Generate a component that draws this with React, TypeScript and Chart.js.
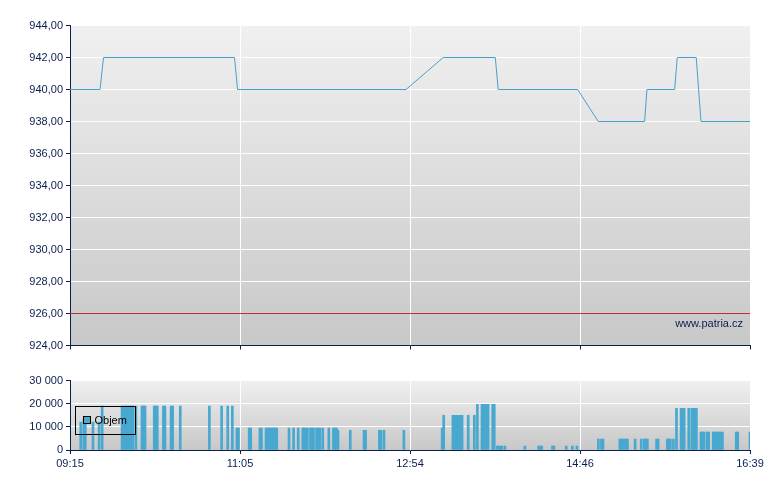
import React, { useEffect, useRef } from 'react';
import { Chart, registerables } from 'chart.js';

Chart.register(...registerables);

// ---- data ----
const timeLabels = ['09:15', '11:05', '12:54', '14:46', '16:39'];
const timeTickMinutes = [0, 111, 222, 333, 444];
const sessionLength = 444;

const priceTimes = [0, 19.6, 21.9, 107.4, 109.4, 219.4, 243.7, 277.7, 279.6, 331.5, 344.9, 375.2, 376.7, 394.8, 396.5, 408.9, 412, 444];
const priceValues = [940, 940, 942, 942, 940, 940, 942, 942, 940, 940, 938, 938, 940, 940, 942, 942, 938, 938];
const referencePrice = 926;
const priceMin = 924;
const priceMax = 944;
const priceStep = 2;

const volumeTimes = [
  7, 9, 10, 15, 19, 21,
  34, 35, 36, 37, 38, 39, 40, 41, 43,
  47, 48, 49, 55, 56, 57, 61, 62, 66, 67, 72,
  91, 99, 103, 106,
  109, 110, 117, 118, 124, 125,
  128, 129, 130, 131, 132, 133, 134, 135,
  143, 146, 149, 152, 153, 154, 155, 157, 158, 159, 161, 162, 163, 165, 169, 172, 173, 174,
  175, 183, 192, 193, 202, 203, 205, 218,
  243, 244, 250, 251, 252, 253, 254, 255, 256, 260, 264,
  266, 269, 270, 271, 272, 273, 276, 277,
  279, 280, 281, 282, 284, 297, 306, 307, 308, 315, 316, 324, 328, 331,
  345, 347, 348, 359, 360, 361, 362, 363, 364, 369, 373, 375, 376, 377, 383, 384, 390, 391, 392, 394,
  396, 399, 400, 401, 404, 406, 407, 408, 409,
  412, 413, 414, 416, 417, 420, 421, 422, 423, 424, 425, 426, 435, 436, 444,
];
const volumeValues = [
  12000, 13000, 13000, 12000, 12000, 19000,
  19000, 19000, 19000, 19000, 19000, 19000, 19000, 19000, 19000,
  19000, 19000, 19000, 19000, 19000, 19000, 19000, 19000, 19000, 19000, 19000,
  19000, 19000, 19000, 19000,
  9500, 9500, 9500, 9500, 9500, 9500,
  9500, 9500, 9500, 9500, 9500, 9500, 9500, 9500,
  9500, 9500, 9500, 9500, 9500, 9500, 9500, 9500, 9500, 9500, 9500, 9500, 9500, 9500, 9500, 9500, 9500, 9500,
  8500, 8500, 8500, 8500, 8500, 8500, 8500, 8500,
  9500, 15000, 15000, 15000, 15000, 15000, 15000, 15000, 15000, 15000, 15000,
  19700, 19700, 19700, 19700, 19700, 19700, 19700, 19700,
  1700, 1700, 1700, 1700, 1700, 1700, 1700, 1700, 1700, 1700, 1700, 1700, 1700, 1700,
  4700, 4700, 4700, 4700, 4700, 4700, 4700, 4700, 4700, 4700, 4700, 4700, 4700, 4700, 4700, 4700, 4700, 4700, 4700, 4700,
  18000, 18000, 18000, 18000, 18000, 18000, 18000, 18000, 18000,
  7700, 7700, 7700, 7700, 7700, 7700, 7700, 7700, 7700, 7700, 7700, 7700, 7700, 7700, 7700,
];
const volumeMax = 30000;
const volumeStep = 10000;
const volumeLabel = 'Objem';
const watermark = 'www.patria.cz';

// ---- styles ----
const NAVY = '#0b1f4f';
const LINE_BLUE = '#4aa0c8';
const BAR_BLUE = '#48a8d0';
const RED = '#b8332e';
const FONT = { family: "'Liberation Sans', Arial, sans-serif", size: 11 };

const plotBackground = {
  id: 'plotBackground',
  beforeDraw(chart: any) {
    const { ctx, chartArea: a } = chart;
    const top = Math.floor(a.top);
    const g = ctx.createLinearGradient(0, top, 0, a.bottom);
    g.addColorStop(0, '#f0f0f0');
    g.addColorStop(1, '#c8c8c8');
    ctx.save();
    ctx.fillStyle = g;
    ctx.fillRect(a.left, top, a.right - a.left, Math.ceil(a.bottom) - top);
    ctx.restore();
  },
};

const watermarkPlugin = {
  id: 'watermark',
  afterDraw(chart: any) {
    const { ctx, chartArea: a } = chart;
    ctx.save();
    ctx.font = `11px ${FONT.family}`;
    ctx.fillStyle = NAVY;
    ctx.textAlign = 'right';
    ctx.textBaseline = 'alphabetic';
    ctx.fillText(watermark, a.right - 7, Math.round(a.bottom - 18.5));
    ctx.restore();
  },
};

const volumeLegend = {
  id: 'volumeLegend',
  afterDatasetsDraw(chart: any) {
    const { ctx, chartArea: a } = chart;
    const x = Math.round(a.left + 5) + 0.5;
    const y = Math.round(a.top + 25) + 0.5;
    ctx.save();
    ctx.strokeStyle = '#000';
    ctx.lineWidth = 1;
    ctx.strokeRect(x, y, 60, 28);
    ctx.fillStyle = BAR_BLUE;
    ctx.fillRect(x + 8, y + 10, 7, 7);
    ctx.strokeRect(x + 8, y + 10, 7, 7);
    ctx.fillStyle = '#000';
    ctx.font = `11px ${FONT.family}`;
    ctx.textBaseline = 'middle';
    ctx.textAlign = 'left';
    ctx.fillText(volumeLabel, x + 19, y + 14);
    ctx.restore();
  },
};

const fmtPrice = (v: number) => v.toFixed(2).replace('.', ',');
const fmtVolume = (v: number) => String(v).replace(/\B(?=(\d{3})+(?!\d))/g, ' ');

function xScale(showLabels: boolean, height: number) {
  return {
    type: 'linear',
    min: 0,
    max: sessionLength,
    offset: false,
    afterBuildTicks: (axis: any) => {
      axis.ticks = timeTickMinutes.map((v) => ({ value: v }));
    },
    afterFit: (axis: any) => {
      axis.height = height;
    },
    ticks: {
      display: showLabels,
      autoSkip: false,
      maxRotation: 0,
      color: NAVY,
      font: FONT,
      padding: 3,
      callback: (_v: any, i: number) => timeLabels[i],
    },
    grid: { color: '#ffffff', tickColor: NAVY, tickLength: 4, offset: false, lineWidth: 1 },
    border: { color: NAVY, width: 1 },
  };
}

export default function App() {
  const priceRef = useRef<HTMLCanvasElement>(null);
  const volRef = useRef<HTMLCanvasElement>(null);

  useEffect(() => {
    const priceChart = new Chart(priceRef.current!, {
      type: 'line',
      data: {
        datasets: [
          {
            data: [
              { x: 0, y: referencePrice },
              { x: sessionLength, y: referencePrice },
            ],
            borderColor: RED,
            borderWidth: 1,
            pointRadius: 0,
          },
          {
            data: priceTimes.map((t, i) => ({ x: t, y: priceValues[i] })),
            borderColor: LINE_BLUE,
            borderWidth: 1,
            pointRadius: 0,
            tension: 0,
          },
        ],
      },
      options: {
        responsive: false,
        animation: false,
        devicePixelRatio: 1,
        layout: { padding: { left: 8, right: 30, top: 25.5, bottom: 0 } },
        plugins: { legend: { display: false }, tooltip: { enabled: false } },
        scales: {
          x: xScale(false, 14.5) as any,
          y: {
            min: priceMin,
            max: priceMax,
            afterFit: (axis: any) => {
              axis.width = 62;
            },
            ticks: { stepSize: priceStep, color: NAVY, font: FONT, padding: 3, callback: (v: any) => fmtPrice(Number(v)) },
            grid: { color: '#ffffff', tickColor: NAVY, tickLength: 4 },
            border: { color: NAVY, width: 1 },
          },
        },
      },
      plugins: [plotBackground, watermarkPlugin],
    } as any);

    const volumeChart = new Chart(volRef.current!, {
      type: 'bar',
      data: {
        datasets: [
          {
            label: volumeLabel,
            data: volumeTimes.map((t, i) => ({ x: t, y: volumeValues[i] })),
            backgroundColor: BAR_BLUE,
            borderWidth: 0,
            barThickness: 2,
          },
        ],
      },
      options: {
        responsive: false,
        animation: false,
        devicePixelRatio: 1,
        layout: { padding: { left: 8, right: 30, top: 10.5, bottom: 0 } },
        plugins: { legend: { display: false }, tooltip: { enabled: false } },
        scales: {
          x: xScale(true, 40) as any,
          y: {
            min: 0,
            max: volumeMax,
            afterFit: (axis: any) => {
              axis.width = 62;
            },
            ticks: { stepSize: volumeStep, color: NAVY, font: FONT, padding: 3, callback: (v: any) => fmtVolume(Number(v)) },
            grid: { color: '#ffffff', tickColor: NAVY, tickLength: 4 },
            border: { color: NAVY, width: 1 },
          },
        },
      },
      plugins: [plotBackground, volumeLegend],
    } as any);

    return () => {
      priceChart.destroy();
      volumeChart.destroy();
    };
  }, []);

  return (
    <div style={{ position: 'absolute', left: 0, top: 0, width: 780, height: 490, background: '#ffffff' }}>
      <canvas ref={priceRef} width={780} height={360} style={{ position: 'absolute', left: 0, top: 0 }} />
      <canvas ref={volRef} width={780} height={120} style={{ position: 'absolute', left: 0, top: 370 }} />
    </div>
  );
}
